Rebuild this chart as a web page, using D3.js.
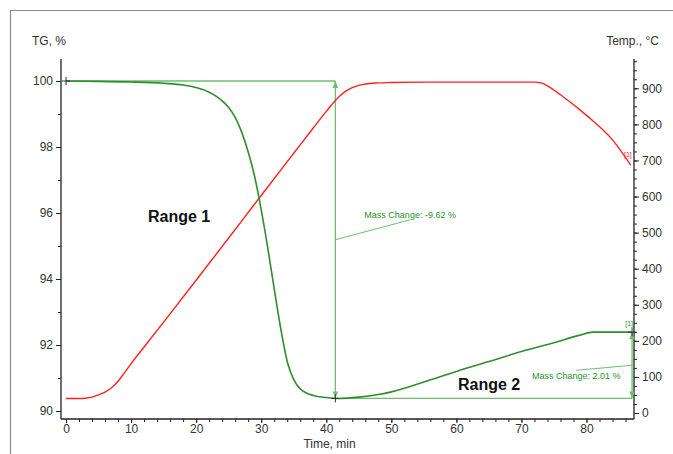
<!DOCTYPE html>
<html><head><meta charset="utf-8">
<script src="https://cdn.jsdelivr.net/npm/d3@7"></script>
<style>body{margin:0;background:#fff;}text{font-family:Arial,"Liberation Sans",sans-serif;}</style>
</head><body>
<svg id="chart" width="673" height="454"></svg>
<script>
// TG (mass, %) vs time (min)
const tgTime = [0, 5, 10, 15, 18, 20, 22, 23, 24, 25, 26, 27, 28, 29, 30, 31, 32, 33, 34, 35, 36, 37, 38, 40, 42, 45, 48, 50, 55, 60, 65, 70, 75, 79, 81, 84, 87];
const tgValues = [100.0, 99.99, 99.97, 99.93, 99.88, 99.8, 99.66, 99.55, 99.4, 99.2, 98.9, 98.45, 97.85, 97.1, 96.1, 94.95, 93.7, 92.5, 91.5, 90.95, 90.67, 90.54, 90.47, 90.41, 90.38, 90.42, 90.5, 90.58, 90.88, 91.2, 91.5, 91.8, 92.07, 92.3, 92.39, 92.39, 92.39];
// Temperature (°C) vs time (min)
const tempTime = [0, 2, 3, 4, 5, 6, 7, 8, 9, 10, 12, 15, 20, 25, 30, 35, 38, 40, 41, 42, 43, 44, 45, 46, 48, 50, 55, 60, 65, 70, 72, 73, 74, 76, 80, 84, 86.8];
const tempValues = [40, 40, 41, 44, 50, 58, 70, 88, 112, 137, 183, 252, 368, 485, 603, 720, 790, 836, 858, 877, 892, 902, 908, 912, 915, 916, 917, 917, 917, 917, 917, 915, 907, 882, 825, 757, 687];
// Tick labels
const tgTicks = [90, 92, 94, 96, 98, 100];
const tempTicks = [0, 100, 200, 300, 400, 500, 600, 700, 800, 900];
const timeTicks = [0, 10, 20, 30, 40, 50, 60, 70, 80];
// Mass change annotations
const step1 = {tStart: 0, tEnd: 41.4, from: 100.0, to: 90.38, label: "Mass Change: -9.62 %"};
const step2 = {tStart: 41.4, tEnd: 87.0, from: 90.38, to: 92.39, label: "Mass Change: 2.01 %"};

const svg = d3.select("#chart");
const L = 61, R = 634, T = 59, B = 419;
const x = d3.scaleLinear().domain([-0.77, 87.3]).range([L, R]);
const yTG = d3.scaleLinear().domain([90, 100]).range([411, 81]);
const yT = d3.scaleLinear().domain([0, 900]).range([413, 88.3]);

const green = "#2e8e2e", lightGreen = "#6cbf6c", red = "#ff2020", axisCol = "#222", txt = "#333";

// outer frame
svg.append("path").attr("d", "M10.5,454 V10.5 H673").attr("fill", "none").attr("stroke", "#8a8a8a").attr("stroke-width", 1.2);

function styleAxis(g) {
  g.select(".domain").attr("stroke", axisCol).attr("stroke-width", 1.3);
  g.selectAll(".tick line").attr("stroke", axisCol);
  g.selectAll(".tick text").attr("fill", txt).attr("font-size", 12).attr("font-family", "Arial, 'Liberation Sans', sans-serif");
}
// minor ticks
const xMinor = d3.range(0, 88, 2);
const tgMinor = d3.range(90, 100.5, 1);
const tMinor = d3.range(0, 976, 25);

svg.append("g").attr("transform", `translate(0,${B})`)
  .call(d3.axisBottom(x).tickValues(xMinor).tickSize(3).tickFormat("").tickSizeOuter(0))
  .call(g => { g.select(".domain").remove(); g.selectAll("line").attr("stroke", axisCol); });
svg.append("g").attr("transform", `translate(${L},0)`)
  .call(d3.axisLeft(yTG).tickValues(tgMinor).tickSize(3).tickFormat("").tickSizeOuter(0))
  .call(g => { g.select(".domain").remove(); g.selectAll("line").attr("stroke", axisCol); });
svg.append("g").attr("transform", `translate(${R},0)`)
  .call(d3.axisRight(yT).tickValues(tMinor).tickSize(3).tickFormat("").tickSizeOuter(0))
  .call(g => { g.select(".domain").remove(); g.selectAll("line").attr("stroke", axisCol); });

const xAxis = svg.append("g").attr("transform", `translate(0,${B})`)
  .call(d3.axisBottom(x).tickValues(timeTicks).tickSize(4).tickPadding(1).tickSizeOuter(0));
styleAxis(xAxis);
xAxis.select(".domain").attr("d", `M${L},0H${R}`);
const yAxisL = svg.append("g").attr("transform", `translate(${L},0)`)
  .call(d3.axisLeft(yTG).tickValues(tgTicks).tickSize(5).tickPadding(3).tickSizeOuter(0));
styleAxis(yAxisL);
yAxisL.select(".domain").attr("d", `M0,${T}V${B}`);
const yAxisR = svg.append("g").attr("transform", `translate(${R},0)`)
  .call(d3.axisRight(yT).tickValues(tempTicks).tickSize(5).tickPadding(3).tickSizeOuter(0));
styleAxis(yAxisR);
yAxisR.select(".domain").attr("d", `M0,${T}V${B}`);

// axis titles
svg.append("text").attr("x", 32).attr("y", 45).attr("font-size", 12).attr("fill", txt).text("TG, %");
svg.append("text").attr("x", 659).attr("y", 45).attr("text-anchor", "end").attr("font-size", 12).attr("fill", txt).text("Temp., °C");
svg.append("text").attr("x", x(40.5)).attr("y", 448).attr("text-anchor", "middle").attr("font-size", 12).attr("fill", txt).text("Time, min");

// arrow markers
const defs = svg.append("defs");
defs.append("marker").attr("id", "arr").attr("viewBox", "0 0 10 10").attr("refX", 10).attr("refY", 5)
  .attr("markerWidth", 7).attr("markerHeight", 7).attr("orient", "auto-start-reverse").attr("markerUnits", "userSpaceOnUse")
  .append("path").attr("d", "M0,1 L10,5 L0,9 z").attr("fill", lightGreen);

// annotation 1
const xs1 = x(step1.tStart), xe1 = x(step1.tEnd), y1a = yTG(step1.from), y1b = yTG(step1.to);
const g1 = svg.append("g");
g1.append("line").attr("x1", xs1).attr("x2", xe1).attr("y1", y1a).attr("y2", y1a).attr("stroke", lightGreen).attr("stroke-width", 1.3);
g1.append("line").attr("x1", xe1).attr("x2", xe1).attr("y1", y1a).attr("y2", y1b).attr("stroke", lightGreen).attr("stroke-width", 1.3)
  .attr("marker-start", "url(#arr)").attr("marker-end", "url(#arr)");
const mid1 = (y1a + y1b) / 2;
g1.append("line").attr("x1", xe1).attr("y1", mid1).attr("x2", xe1 + 75).attr("y2", mid1 - 20).attr("stroke", lightGreen).attr("stroke-width", 1);
g1.append("text").attr("x", xe1 + 29).attr("y", mid1 - 22).attr("font-size", 9).attr("fill", green).text(step1.label);

// annotation 2
const xs2 = x(step2.tStart), xe2 = x(step2.tEnd), y2a = yTG(step2.from), y2b = yTG(step2.to);
const g2 = svg.append("g");
g2.append("line").attr("x1", xs2).attr("x2", xe2).attr("y1", y2a).attr("y2", y2a).attr("stroke", lightGreen).attr("stroke-width", 1.3);
g2.append("line").attr("x1", xe2).attr("x2", xe2).attr("y1", y2a).attr("y2", y2b).attr("stroke", lightGreen).attr("stroke-width", 1.3)
  .attr("marker-start", "url(#arr)").attr("marker-end", "url(#arr)");
const mid2 = (y2a + y2b) / 2;
g2.append("line").attr("x1", xe2).attr("y1", mid2).attr("x2", xe2 - 56).attr("y2", mid2 + 5).attr("stroke", lightGreen).attr("stroke-width", 1);
g2.append("text").attr("x", xe2 - 100).attr("y", mid2 + 14).attr("font-size", 9).attr("fill", green).text(step2.label);

// curves
const lineTG = d3.line().x((d, i) => x(tgTime[i])).y(d => yTG(d)).curve(d3.curveMonotoneX);
const lineT = d3.line().x((d, i) => x(tempTime[i])).y(d => yT(d)).curve(d3.curveMonotoneX);
svg.append("path").attr("d", lineT(tempValues)).attr("fill", "none").attr("stroke", red).attr("stroke-width", 1.4);
svg.append("path").attr("d", lineTG(tgValues)).attr("fill", "none").attr("stroke", green).attr("stroke-width", 1.6);

// cross markers
function cross(cx, cy) {
  svg.append("path").attr("d", `M${cx - 4},${cy}H${cx + 4}M${cx},${cy - 4}V${cy + 4}`).attr("stroke", "#333").attr("stroke-width", 1);
}
cross(xs1, y1a);
cross(xe1, y1b);
cross(xe2, y2b);

// [1] curve labels
svg.append("text").attr("x", x(tempTime[tempTime.length - 1]) + 1).attr("y", yT(tempValues[tempValues.length - 1]) - 8)
  .attr("text-anchor", "end").attr("font-size", 7).attr("fill", red).text("[1]");
svg.append("text").attr("x", x(tgTime[tgTime.length - 1]) + 1).attr("y", yTG(tgValues[tgValues.length - 1]) - 6)
  .attr("text-anchor", "end").attr("font-size", 7).attr("fill", green).text("[1]");

// range labels
svg.append("text").attr("x", 148).attr("y", 222).attr("font-size", 16).attr("font-weight", "bold").attr("fill", "#111").text("Range 1");
svg.append("text").attr("x", 458).attr("y", 390).attr("font-size", 16).attr("font-weight", "bold").attr("fill", "#111").text("Range 2");
</script>
</body></html>
